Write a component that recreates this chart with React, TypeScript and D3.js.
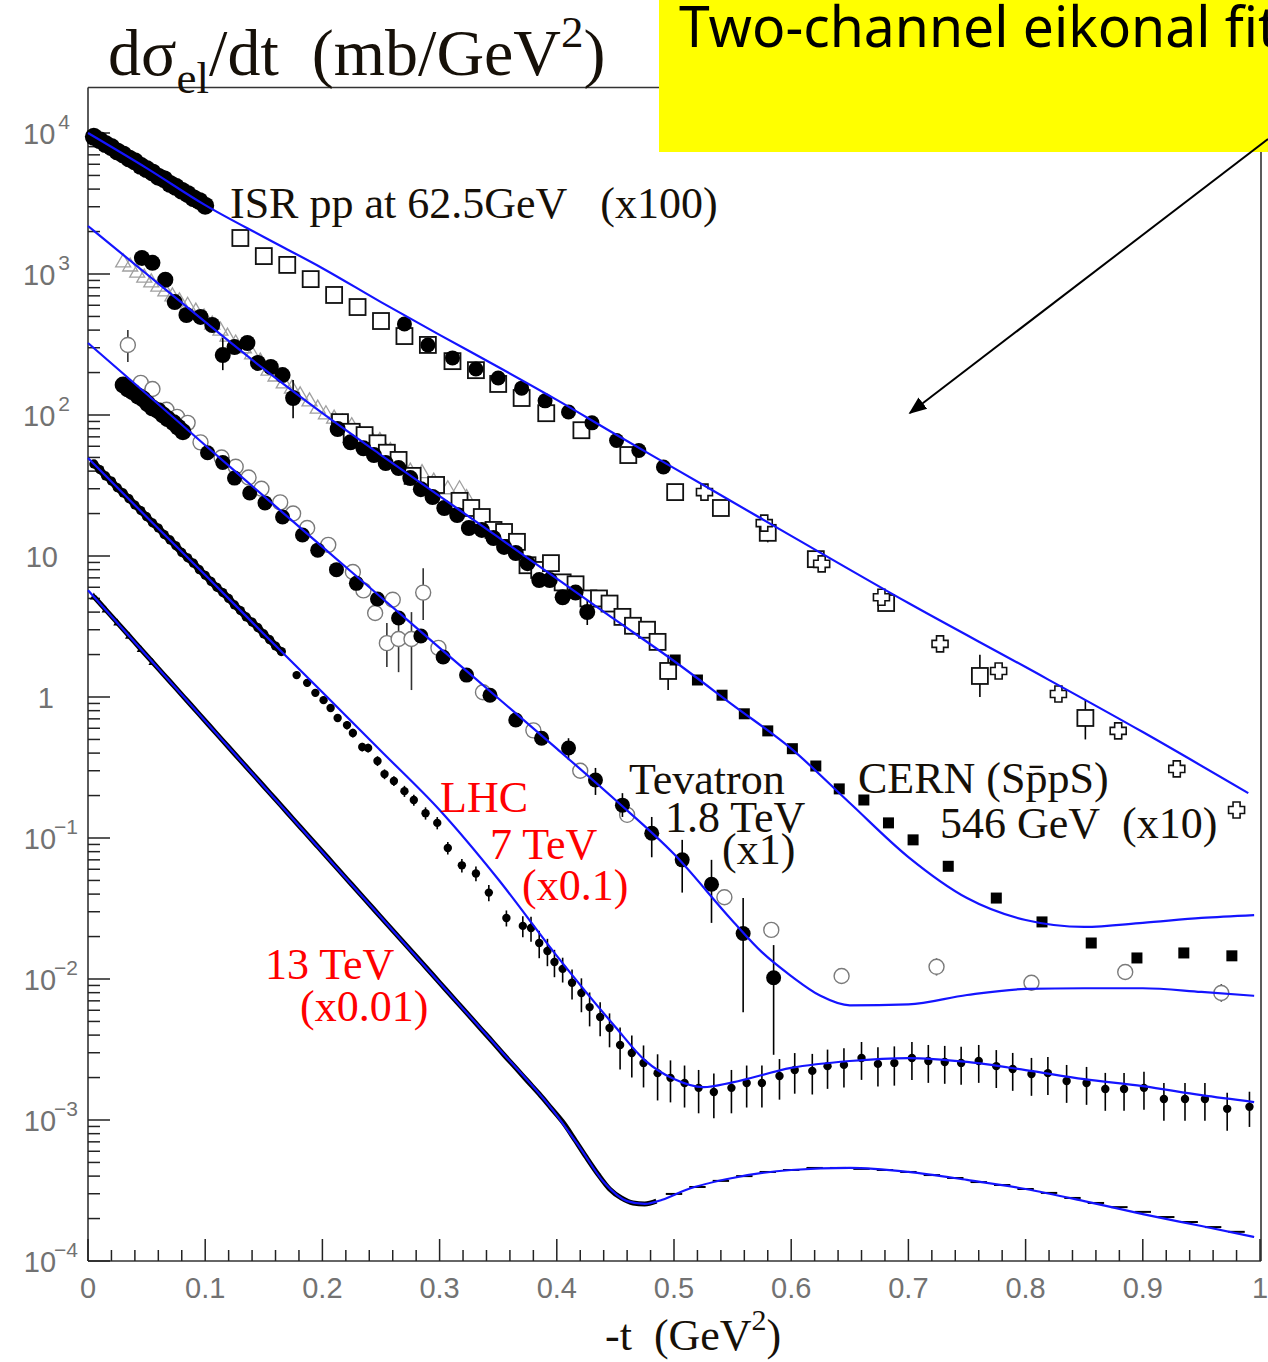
import React from "react";
import * as d3 from "d3";

const W = 1268;
const H = 1362;

// ---- fitted curves (two-channel eikonal), t in GeV^2, dsigma/dt in mb/GeV^2 (scaled)
const isrFitT = [0, 0.05, 0.1, 0.15, 0.2, 0.25, 0.3, 0.35, 0.4, 0.45, 0.5, 0.6, 0.7, 0.8, 0.9, 0.99];
const isrFitV = [10000, 5640, 3080, 1830, 1100, 632, 370, 219, 128, 73, 42, 13.9, 4.64, 1.63, 0.564, 0.208];

const cernFitT = [0, 0.05, 0.1, 0.15, 0.2, 0.25, 0.3, 0.35, 0.4, 0.45, 0.5, 0.55, 0.6, 0.65, 0.7, 0.75, 0.8, 0.85, 0.9, 0.95, 0.995];
const cernFitV = [2190, 1000, 457, 212, 103, 52, 26.6, 13.6, 6.9, 3.52, 1.8, 0.88, 0.43, 0.177, 0.0732, 0.0375, 0.0262, 0.0234, 0.025, 0.0271, 0.0284];

const tevFitT = [0, 0.05, 0.1, 0.15, 0.2, 0.25, 0.3, 0.35, 0.4, 0.45, 0.5, 0.55, 0.575, 0.6, 0.625, 0.65, 0.7, 0.75, 0.8, 0.85, 0.9, 0.95, 0.995];
const tevFitV = [324, 141, 61, 26.6, 11.6, 5.1, 2.23, 0.98, 0.43, 0.186, 0.077, 0.0258, 0.0155, 0.0105, 0.0076, 0.0065, 0.0066, 0.0077, 0.0085, 0.0086, 0.0086, 0.0081, 0.0076];

const lhc7FitT = [0, 0.05, 0.1, 0.15, 0.2, 0.25, 0.3, 0.35, 0.4, 0.45, 0.475, 0.5, 0.525, 0.55, 0.6, 0.65, 0.7, 0.75, 0.8, 0.85, 0.9, 0.95, 0.995];
const lhc7FitV = [49.6, 18.9, 7.33, 2.8, 1.08, 0.414, 0.158, 0.051, 0.0146, 0.00457, 0.00266, 0.00195, 0.00171, 0.00185, 0.00234, 0.00262, 0.00275, 0.00258, 0.00226, 0.00195, 0.00174, 0.0015, 0.00134];

const lhc13FitT = [0, 0.05, 0.1, 0.15, 0.2, 0.25, 0.3, 0.35, 0.4, 0.42, 0.44, 0.46, 0.475, 0.49, 0.51, 0.55, 0.6, 0.65, 0.7, 0.75, 0.8, 0.85, 0.9, 0.95, 0.995];
const lhc13FitV = [5.72, 1.97, 0.676, 0.232, 0.0796, 0.0274, 0.0094, 0.00324, 0.00108, 0.000632, 0.000363, 0.000266, 0.000254, 0.000272, 0.000319, 0.000388, 0.000442, 0.000457, 0.000428, 0.000376, 0.000324, 0.000266, 0.000215, 0.000177, 0.000148];

// ---- ISR pp 62.5 GeV (x100)
const isrLowT = [0.005, 0.01, 0.015, 0.02, 0.025, 0.03, 0.035, 0.04, 0.045, 0.05, 0.055, 0.06, 0.065, 0.07, 0.075, 0.08, 0.085, 0.09, 0.095, 0.1];
const isrLowV = [9400, 8900, 8350, 7950, 7400, 7050, 6600, 6300, 5850, 5550, 5250, 4900, 4700, 4350, 4150, 3900, 3700, 3450, 3300, 3050];
const isrDotT = [0.27, 0.29, 0.311, 0.331, 0.35, 0.37, 0.39, 0.41, 0.43, 0.451, 0.47, 0.491];
const isrDotV = [442, 314, 254, 212, 183, 155, 126, 105, 88, 66, 56, 42.8];
const isrSqT = [0.13, 0.15, 0.17, 0.19, 0.21, 0.23, 0.25, 0.27, 0.29, 0.311, 0.331, 0.35, 0.37, 0.391, 0.421, 0.461, 0.501, 0.54, 0.58, 0.621, 0.681, 0.761, 0.851];
const isrSqV = [1800, 1340, 1160, 920, 710, 583, 464, 363, 314, 241, 208, 166, 132, 103, 78, 52, 28.4, 21.9, 14.6, 9.5, 4.64, 1.41, 0.71];
const isrSqBars = [[0.58, 12.5, 17], [0.621, 8.5, 10.8], [0.761, 1.0, 1.99], [0.851, 0.5, 0.95]];
const isrCrT = [0.526, 0.577, 0.626, 0.677, 0.727, 0.777, 0.828, 0.879, 0.929, 0.98];
const isrCrV = [28.4, 17.1, 8.8, 5.1, 2.38, 1.53, 1.05, 0.575, 0.309, 0.158];
const isrCrErr = [0.12, 0.12, 0.12, 0.12, 0.12, 0.12, 0.12, 0.12, 0.12, 0.12];

// ---- CERN SppS 546 GeV (x10)
const cernTriT = [0.03, 0.036, 0.042, 0.048, 0.054, 0.06, 0.066, 0.072, 0.078, 0.085, 0.092, 0.099, 0.106, 0.113, 0.119, 0.126, 0.133, 0.14, 0.147, 0.154, 0.16, 0.167, 0.174, 0.181, 0.189, 0.196, 0.203, 0.21, 0.217, 0.225, 0.232, 0.241, 0.249, 0.258, 0.266, 0.275, 0.285, 0.295, 0.307, 0.317, 0.323];
const cernTriV = [1220, 1140, 1030, 950, 880, 820, 760, 700, 645, 600, 546, 496, 442, 400, 363, 324, 300, 271, 241, 208, 189, 169, 155, 139, 126, 112, 102, 95, 89, 84, 74, 70, 66, 56, 46, 40, 39, 34, 30, 30, 26];
const cernDotT = [0.046, 0.055, 0.066, 0.074, 0.084, 0.096, 0.106, 0.115, 0.125, 0.136, 0.145, 0.156, 0.166, 0.175, 0.213, 0.224, 0.235, 0.244, 0.254, 0.265, 0.275, 0.284, 0.294, 0.304, 0.315, 0.325, 0.336, 0.346, 0.355, 0.365, 0.375, 0.385, 0.394, 0.405, 0.416, 0.426];
const cernDotV = [1300, 1200, 910, 632, 512, 496, 435, 266, 303, 324, 234, 219, 192, 132, 79.6, 64, 58, 52, 45.6, 42, 35.7, 29.8, 26.2, 21.9, 19.5, 15.8, 15.3, 13.4, 11.6, 10.5, 8.9, 6.75, 6.75, 5.1, 5.5, 4.0];
const cernDotBars = [[0.115, 208, 352], [0.175, 95, 177], [0.426, 3.24, 4.87]];
const cernSqT = [0.215, 0.225, 0.236, 0.247, 0.255, 0.265, 0.277, 0.297, 0.317, 0.327, 0.336, 0.346, 0.355, 0.366, 0.375, 0.385, 0.395, 0.405, 0.416, 0.427, 0.436, 0.445, 0.456, 0.465, 0.477, 0.486, 0.495];
const cernSqV = [89, 76, 72, 63, 54, 48, 37, 31.9, 24.6, 21.9, 18.9, 15.3, 14.8, 12.6, 8.6, 7.96, 8.9, 6.5, 6.3, 5.0, 5.0, 4.6, 3.7, 3.2, 3.0, 2.46, 1.53];
const cernSqBars = [[0.495, 1.12, 1.99]];
const cernFillT = [0.501, 0.52, 0.541, 0.56, 0.58, 0.601, 0.621, 0.641, 0.662, 0.683, 0.704, 0.734, 0.775, 0.814, 0.856, 0.895, 0.935, 0.976];
const cernFillV = [1.83, 1.32, 1.03, 0.76, 0.575, 0.43, 0.324, 0.223, 0.186, 0.128, 0.097, 0.063, 0.0375, 0.0254, 0.018, 0.0141, 0.0153, 0.0146];

// ---- Tevatron 1.8 TeV (x1)
const tevDotT = [0.03, 0.034, 0.038, 0.043, 0.047, 0.051, 0.055, 0.06, 0.064, 0.068, 0.073, 0.077, 0.081, 0.102, 0.115, 0.125, 0.138, 0.151, 0.166, 0.183, 0.196, 0.212, 0.229, 0.247, 0.265, 0.284, 0.303, 0.323, 0.343, 0.365, 0.387, 0.41, 0.433, 0.456, 0.481, 0.507, 0.532, 0.559, 0.585];
const tevDotV = [163, 153, 146, 136, 130, 120, 112, 107, 100, 94, 88, 82, 76, 54, 46, 35.7, 28, 23.8, 18.9, 14.1, 11.0, 8.0, 6.4, 4.96, 3.63, 2.71, 1.92, 1.43, 1.03, 0.687, 0.51, 0.435, 0.258, 0.171, 0.108, 0.07, 0.047, 0.021, 0.0102];
const tevDotBars = [[0.41, 0.357, 0.51], [0.433, 0.202, 0.314], [0.456, 0.141, 0.208], [0.481, 0.073, 0.141], [0.507, 0.041, 0.097], [0.532, 0.025, 0.07], [0.559, 0.0058, 0.0375], [0.585, 0.0029, 0.0174]];
const tevOpenT = [0.034, 0.045, 0.055, 0.067, 0.076, 0.085, 0.096, 0.114, 0.126, 0.137, 0.148, 0.164, 0.175, 0.187, 0.205, 0.226, 0.235, 0.245, 0.255, 0.26, 0.265, 0.276, 0.286, 0.299, 0.337, 0.38, 0.42, 0.46, 0.543, 0.583, 0.643, 0.724, 0.805, 0.885, 0.967];
const tevOpenV = [314, 169, 153, 109, 97, 88, 64, 50, 43, 36, 30, 24, 20, 15.8, 12.0, 7.7, 5.7, 3.94, 2.41, 4.9, 2.58, 2.58, 5.5, 2.23, 1.08, 0.58, 0.3, 0.146, 0.038, 0.0223, 0.0105, 0.0122, 0.0094, 0.0112, 0.00796];
const tevOpenBars = [[0.034, 238, 400], [0.255, 1.63, 3.35], [0.265, 1.5, 3.35], [0.276, 1.12, 4.0], [0.286, 3.52, 8.2], [0.643, 0.0094, 0.0117], [0.724, 0.0106, 0.014], [0.805, 0.0083, 0.0106], [0.885, 0.01, 0.0126], [0.967, 0.0069, 0.0092]];

// ---- LHC 7 TeV (x0.1)
const lhc7LowT = [0.005, 0.01, 0.015, 0.02, 0.025, 0.03, 0.035, 0.04, 0.045, 0.05, 0.055, 0.06, 0.065, 0.07, 0.075, 0.08, 0.085, 0.09, 0.095, 0.1, 0.105, 0.11, 0.115, 0.12, 0.125, 0.13, 0.135, 0.14, 0.145, 0.15, 0.155, 0.16, 0.165];
const lhc7LowV = [45, 41, 37, 34, 30.5, 28, 25.5, 23, 21, 19, 17.2, 15.8, 14.2, 13, 11.8, 10.6, 9.7, 8.9, 8.0, 7.3, 6.6, 6.0, 5.5, 5.0, 4.5, 4.1, 3.7, 3.4, 3.1, 2.8, 2.55, 2.3, 2.1];
const lhc7T = [0.178, 0.187, 0.194, 0.201, 0.207, 0.213, 0.221, 0.226, 0.234, 0.239, 0.247, 0.253, 0.261, 0.27, 0.278, 0.288, 0.298, 0.307, 0.319, 0.331, 0.342, 0.357, 0.371, 0.378, 0.385, 0.392, 0.398, 0.405, 0.413, 0.421, 0.428, 0.437, 0.445, 0.454, 0.464, 0.474, 0.486, 0.497, 0.509, 0.521, 0.534, 0.549, 0.562, 0.575, 0.59, 0.603, 0.618, 0.631, 0.645, 0.66, 0.674, 0.688, 0.703, 0.717, 0.731, 0.745, 0.76, 0.775, 0.789, 0.805, 0.819, 0.835, 0.852, 0.868, 0.884, 0.901, 0.918, 0.936, 0.953, 0.972, 0.991];
const lhc7V = [1.43, 1.26, 1.07, 0.95, 0.836, 0.71, 0.632, 0.556, 0.442, 0.435, 0.352, 0.284, 0.254, 0.215, 0.186, 0.15, 0.128, 0.085, 0.064, 0.056, 0.041, 0.0271, 0.0238, 0.023, 0.018, 0.0158, 0.0132, 0.0118, 0.0094, 0.00796, 0.00632, 0.00538, 0.00449, 0.0034, 0.00299, 0.00254, 0.00215, 0.00199, 0.00183, 0.00169, 0.00158, 0.00169, 0.00183, 0.00183, 0.00205, 0.00226, 0.00223, 0.00241, 0.00246, 0.00275, 0.0025, 0.00254, 0.00275, 0.00262, 0.00258, 0.00254, 0.00262, 0.00241, 0.0023, 0.00212, 0.00215, 0.00189, 0.00183, 0.00166, 0.00166, 0.00169, 0.00141, 0.00141, 0.00141, 0.0012, 0.00124];
const lhc7Err = [0.06, 0.06, 0.06, 0.06, 0.06, 0.06, 0.07, 0.07, 0.07, 0.07, 0.08, 0.08, 0.08, 0.09, 0.09, 0.1, 0.1, 0.1, 0.11, 0.12, 0.13, 0.13, 0.17, 0.2, 0.22, 0.22, 0.22, 0.2, 0.24, 0.27, 0.27, 0.27, 0.27, 0.33, 0.33, 0.33, 0.36, 0.33, 0.33, 0.34, 0.35, 0.34, 0.33, 0.33, 0.32, 0.32, 0.32, 0.31, 0.31, 0.3, 0.31, 0.31, 0.3, 0.3, 0.3, 0.3, 0.3, 0.3, 0.3, 0.3, 0.3, 0.3, 0.3, 0.3, 0.3, 0.3, 0.3, 0.3, 0.3, 0.3, 0.28];

// ---- LHC 13 TeV (x0.01)
const lhc13LowT = [0.005, 0.015, 0.025, 0.035, 0.045, 0.055, 0.065, 0.075, 0.085, 0.095, 0.105, 0.115, 0.125, 0.135, 0.145, 0.155, 0.165, 0.175, 0.185, 0.195, 0.205, 0.215, 0.225, 0.235, 0.245, 0.255, 0.265, 0.275, 0.285, 0.295, 0.305, 0.315, 0.325, 0.335, 0.345, 0.355, 0.365, 0.375, 0.385, 0.395, 0.405, 0.415, 0.425, 0.435, 0.445, 0.455, 0.465, 0.475, 0.485];
const lhc13LowV = [5.16, 4.17, 3.37, 2.72, 2.19, 1.77, 1.43, 1.156, 0.933, 0.753, 0.608, 0.491, 0.396, 0.32, 0.259, 0.209, 0.169, 0.136, 0.11, 0.0889, 0.0718, 0.0579, 0.0468, 0.0378, 0.0305, 0.0246, 0.0199, 0.0161, 0.013, 0.0105, 0.00846, 0.00683, 0.00552, 0.00445, 0.0036, 0.00289, 0.00234, 0.00189, 0.00153, 0.00122, 0.00097, 0.000733, 0.000547, 0.000414, 0.000324, 0.00028, 0.000258, 0.000254, 0.000266];
const lhc13HiT = [0.5, 0.52, 0.54, 0.56, 0.58, 0.6, 0.62, 0.64, 0.66, 0.68, 0.7, 0.72, 0.74, 0.76, 0.78, 0.8, 0.82, 0.84, 0.86, 0.88, 0.9, 0.92, 0.94, 0.96, 0.98];
const lhc13HiV = [0.000299, 0.000335, 0.00037, 0.0004, 0.000428, 0.000442, 0.000457, 0.000457, 0.00045, 0.000442, 0.000428, 0.000407, 0.000388, 0.000363, 0.000346, 0.000324, 0.000304, 0.00028, 0.000258, 0.000241, 0.000223, 0.000205, 0.000189, 0.000174, 0.000161];

// ---- axes
const xTickLabels = ["0", "0.1", "0.2", "0.3", "0.4", "0.5", "0.6", "0.7", "0.8", "0.9", "1"];
const yDecades = [4, 3, 2, 1, 0, -1, -2, -3, -4];

const sp = "\u00a0";
const pts = (ts: number[], vs: number[]) => ts.map((t, i) => ({ t, v: vs[i], i }));

const crossPath = (s: number) => {
  const h = s / 2, a = s * 0.22;
  return `M${-a},${-h}L${a},${-h}L${a},${-a}L${h},${-a}L${h},${a}L${a},${a}L${a},${h}L${-a},${h}L${-a},${a}L${-h},${a}L${-h},${-a}L${-a},${-a}Z`;
};

export default function App() {
  const x = d3.scaleLinear().domain([0, 1]).range([88, 1260]);
  const y = d3.scaleLog().domain([1e-4, 1e4]).range([1261, 133]);

  const left = x(0), right = x(1) + 1, bottom = y(1e-4), top = y(2.1e4);

  const line = d3
    .line<{ t: number; v: number }>()
    .x((d) => x(d.t))
    .y((d) => y(d.v))
    .curve(d3.curveMonotoneX);

  const fits = [
    pts(isrFitT, isrFitV),
    pts(cernFitT, cernFitV),
    pts(tevFitT, tevFitV),
    pts(lhc7FitT, lhc7FitV),
    pts(lhc13FitT, lhc13FitV),
  ];

  const xTicks = d3.range(0, 51).map((i) => ({ t: i * 0.02, major: i % 5 === 0 }));
  const yTicks: { v: number; major: boolean }[] = [];
  for (let e = -4; e <= 3; e++) for (let m = 1; m <= 9; m++) yTicks.push({ v: m * Math.pow(10, e), major: m === 1 });
  yTicks.push({ v: 1e4, major: true });

  const bars = (list: number[][], key: string, color = "#000") =>
    list.map((b, i) => (
      <line key={key + i} x1={x(b[0])} x2={x(b[0])} y1={y(b[1])} y2={y(b[2])} stroke={color} strokeWidth={1.6} />
    ));

  const serif = "'Liberation Serif', 'Times New Roman', serif";
  const sans = "'Liberation Sans', Arial, sans-serif";
  const txt = "#161008";
  const tickCol = "#727272";

  return (
    <div style={{ position: "absolute", left: 0, top: 0 }}>
      <svg width={W} height={H} viewBox={`0 0 ${W} ${H}`} style={{ display: "block", background: "#fff" }}>
        {/* frame */}
        <g stroke="#333" strokeWidth={1.6} fill="none">
          <line x1={left} x2={left} y1={top} y2={bottom} />
          <line x1={left} x2={right} y1={bottom} y2={bottom} />
          <line x1={left} x2={right} y1={top} y2={top} />
          <line x1={right} x2={right} y1={top} y2={bottom} />
        </g>
        {/* ticks */}
        <g stroke="#222" strokeWidth={1.5}>
          {xTicks.map((d, i) => (
            <line key={"xt" + i} x1={x(d.t)} x2={x(d.t)} y1={bottom} y2={bottom - (d.major ? 22 : 11)} />
          ))}
          {yTicks.map((d, i) => (
            <line key={"yt" + i} x1={left} x2={left + (d.major ? 22 : 12)} y1={y(d.v)} y2={y(d.v)} />
          ))}
        </g>
        {/* tick labels */}
        <g fill={tickCol} fontFamily={sans}>
          {xTickLabels.map((s, i) => (
            <text key={"xl" + i} x={x(i / 10)} y={bottom + 37} fontSize={29} textAnchor="middle">
              {s}
            </text>
          ))}
          {yDecades.map((e) => {
            const yy = y(Math.pow(10, e));
            if (e === 0)
              return (
                <text key={"yl" + e} x={54} y={yy + 11} fontSize={29} textAnchor="end">1</text>
              );
            if (e === 1)
              return (
                <text key={"yl" + e} x={58} y={yy + 11} fontSize={29} textAnchor="end">10</text>
              );
            return (
              <text key={"yl" + e} x={e < 0 ? 78 : 70} y={yy + 11} fontSize={29} textAnchor="end">
                10
                <tspan dx={e < 0 ? -2 : 3} dy={-15} fontSize={21}>
                  {e < 0 ? "\u2212" + Math.abs(e) : String(e)}
                </tspan>
              </text>
            );
          })}
        </g>

        {/* ---- data markers ---- */}
        {/* CERN triangles (grey) */}
        <g fill="none" stroke="#a0a0a0" strokeWidth={1.3}>
          {pts(cernTriT, cernTriV).map((d) => (
            <path key={"ct" + d.i} transform={`translate(${x(d.t)},${y(d.v)})`} d="M0,-8L7.5,5L-7.5,5Z" />
          ))}
        </g>
        {/* Tevatron open circles */}
        {bars(tevOpenBars, "tob", "#333")}
        <g fill="#fff" stroke="#7a7a7a" strokeWidth={1.4}>
          {pts(tevOpenT, tevOpenV).map((d) => (
            <circle key={"to" + d.i} cx={x(d.t)} cy={y(d.v)} r={7.5} />
          ))}
        </g>
        {/* open squares */}
        {bars(isrSqBars, "isb")}
        {bars(cernSqBars, "csb")}
        <g fill="#fff" stroke="#111" strokeWidth={1.8}>
          {pts(isrSqT, isrSqV).concat(pts(cernSqT, cernSqV)).map((d, k) => (
            <rect key={"sq" + k} x={x(d.t) - 8} y={y(d.v) - 8} width={16} height={16} />
          ))}
        </g>
        {/* ISR crosses */}
        <g stroke="#111" strokeWidth={1.5}>
          {pts(isrCrT, isrCrV).map((d) => (
            <line key={"crb" + d.i} x1={x(d.t)} x2={x(d.t)} y1={y(d.v * (1 + isrCrErr[d.i]))} y2={y(d.v * (1 - isrCrErr[d.i]))} />
          ))}
        </g>
        <g fill="#fff" stroke="#111" strokeWidth={1.6}>
          {pts(isrCrT, isrCrV).map((d) => (
            <path key={"cr" + d.i} transform={`translate(${x(d.t)},${y(d.v)})`} d={crossPath(16)} />
          ))}
        </g>
        {/* filled circles */}
        {bars(cernDotBars, "cdb")}
        {bars(tevDotBars, "tdb")}
        <g fill="#000">
          {pts(isrLowT, isrLowV).map((d) => (
            <circle key={"il" + d.i} cx={x(d.t)} cy={y(d.v)} r={9} />
          ))}
          {pts(isrDotT, isrDotV).map((d) => (
            <circle key={"id" + d.i} cx={x(d.t)} cy={y(d.v)} r={7.5} />
          ))}
          {pts(cernDotT, cernDotV).map((d) => (
            <circle key={"cd" + d.i} cx={x(d.t)} cy={y(d.v)} r={8} />
          ))}
          {pts(tevDotT, tevDotV).map((d) => (
            <circle key={"td" + d.i} cx={x(d.t)} cy={y(d.v)} r={d.t < 0.09 ? 8.5 : 7.5} />
          ))}
          {pts(cernFillT, cernFillV).map((d) => (
            <rect key={"cf" + d.i} x={x(d.t) - 5.5} y={y(d.v) - 5.5} width={11} height={11} />
          ))}
        </g>
        {/* LHC 7 TeV */}
        <g stroke="#000" strokeWidth={1.6}>
          {pts(lhc7T, lhc7V).map((d) => (
            <line key={"l7b" + d.i} x1={x(d.t)} x2={x(d.t)} y1={y(d.v * (1 + lhc7Err[d.i]))} y2={y(d.v * (1 - lhc7Err[d.i]))} />
          ))}
        </g>
        <path d={line(pts(lhc7LowT, lhc7LowV)) || ""} fill="none" stroke="#000" strokeWidth={7} strokeLinecap="round" />
        <g fill="#000">
          {pts(lhc7LowT, lhc7LowV).map((d) => (
            <circle key={"l7l" + d.i} cx={x(d.t)} cy={y(d.v)} r={4.6} />
          ))}
          {pts(lhc7T, lhc7V).map((d) => (
            <circle key={"l7" + d.i} cx={x(d.t)} cy={y(d.v)} r={4.2} />
          ))}
        </g>
        {/* LHC 13 TeV: dense points form a dark band */}
        <path d={line(pts(lhc13LowT, lhc13LowV)) || ""} fill="none" stroke="#000" strokeWidth={5} />
        <g fill="#000">
          {pts(lhc13LowT, lhc13LowV)
            .filter((d) => d.t < 0.06)
            .map((d) => (
              <path key={"l13t" + d.i} transform={`translate(${x(d.t)},${y(d.v)})`} d="M0,-4L4,3L-4,3Z" />
            ))}
        </g>
        <g stroke="#000" strokeWidth={2}>
          {pts(lhc13HiT, lhc13HiV).map((d) => (
            <line key={"l13h" + d.i} x1={x(d.t - 0.007)} x2={x(d.t + 0.007)} y1={y(d.v)} y2={y(d.v)} />
          ))}
        </g>

        {/* ---- fitted curves ---- */}
        <g fill="none" stroke="#1414ff" strokeWidth={2.2}>
          {fits.map((f, i) => (
            <path key={"fit" + i} d={line(f) || ""} />
          ))}
        </g>

        {/* ---- labels ---- */}
        <g fontFamily={serif} fill={txt} fontSize={44}>
          <text x={230} y={218}>{`ISR pp at 62.5GeV${sp}${sp}${sp}(x100)`}</text>
          <text x={858} y={793}>{`CERN (Sp\u0304pS)`}</text>
          <text x={940} y={838}>{`546 GeV${sp}${sp}(x10)`}</text>
          <text x={629} y={794}>Tevatron</text>
          <text x={665} y={832}>1.8 TeV</text>
          <text x={722} y={864}>(x1)</text>
        </g>
        <g fontFamily={serif} fill="#ff0000" fontSize={44}>
          <text x={440} y={812}>LHC</text>
          <text x={490} y={859}>7 TeV</text>
          <text x={522} y={900}>(x0.1)</text>
          <text x={265} y={979}>13 TeV</text>
          <text x={300} y={1021}>(x0.01)</text>
        </g>

        {/* title */}
        <text x={108} y={75} fontFamily={serif} fill={txt} fontSize={66}>
          {"d\u03c3"}
          <tspan fontSize={45} dy={18}>el</tspan>
          <tspan fontSize={66} dy={-18}>{`/dt${sp}${sp}(mb/GeV`}</tspan>
          <tspan fontSize={45} dy={-28}>2</tspan>
          <tspan fontSize={66} dy={28}>)</tspan>
        </text>
        {/* x axis title */}
        <text x={605} y={1350} fontFamily={serif} fill={txt} fontSize={44}>
          {`-t${sp}${sp}(GeV`}
          <tspan fontSize={30} dy={-20}>2</tspan>
          <tspan fontSize={44} dy={20}>)</tspan>
        </text>

        {/* annotation box */}
        <rect x={659} y={0} width={W - 659} height={152} fill="#ffff00" />
        <text
          x={679}
          y={47}
          fontFamily="'Noto Sans', 'Open Sans', sans-serif"
          fontSize={56}
          fill="#000"
          textLength={599}
          lengthAdjust="spacingAndGlyphs"
        >
          Two-channel eikonal fit
        </text>
        <defs>
          <marker id="ah" viewBox="0 0 10 10" refX="9" refY="5" markerWidth="9" markerHeight="9" orient="auto">
            <path d="M0,1L10,5L0,9Z" fill="#000" />
          </marker>
        </defs>
        <line x1={1268} y1={139} x2={910} y2={413} stroke="#000" strokeWidth={2} markerEnd="url(#ah)" />
      </svg>
    </div>
  );
}
